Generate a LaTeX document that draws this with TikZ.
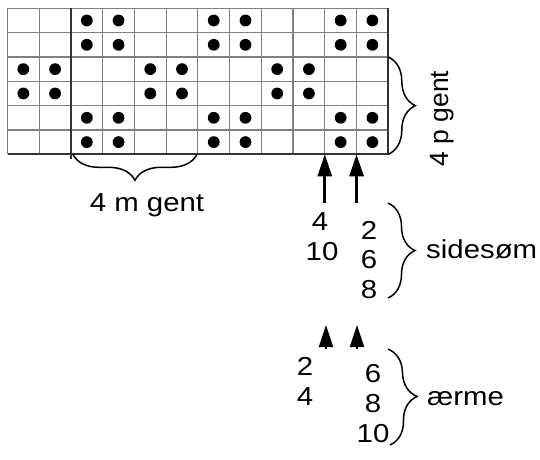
\documentclass[tikz,border=0pt]{standalone}
\usepackage{fontspec}
\setmainfont{Liberation Sans}[FakeStretch=1.13]
\newfontfamily\rotfont{Liberation Sans}
\usetikzlibrary{decorations.pathreplacing,arrows.meta}
\begin{document}
\begin{tikzpicture}[x=1pt,y=-1pt,
  gridline/.style={draw=black!50, line width=1.2pt},
  heavy/.style={draw=black!80, line width=1.7pt},
  brc/.style={draw=black, line width=1.5pt, decorate, decoration={brace, amplitude=#1}},
  lbl/.style={font=\fontsize{26}{30}\selectfont, inner sep=0pt, anchor=base},
  arr/.style={-{Triangle[length=22pt,width=14pt]}, line width=2.8pt},
  arrhead/.style={-{Triangle[length=22pt,width=14pt]}, line width=2pt}
]
\fill[white] (0,0) rectangle (540,459);
\useasboundingbox (0,0) rectangle (540,459);
\def\cw{31.73}
\def\ch{24.33}
\def\gx{7.5}
\def\gy{8.3}
% grid lines
\foreach \c in {0,...,12} {
  \draw[gridline] ({\gx+\c*\cw},\gy) -- ({\gx+\c*\cw},{\gy+6*\ch});
}
\foreach \r in {0,...,6} {
  \draw[gridline] (\gx,{\gy+\r*\ch}) -- ({\gx+12*\cw},{\gy+\r*\ch});
}
% heavy lines
\draw[heavy] (\gx,{\gy+6*\ch}) -- ({\gx+12*\cw},{\gy+6*\ch}) -- ({\gx+12*\cw},\gy);
\draw[heavy] ({\gx+2*\cw},\gy) -- ({\gx+2*\cw},159);
% dots
\foreach \r in {1,2,5,6} {
  \foreach \c in {3,4,7,8,11,12} {
    \fill ({\gx+(\c-0.5)*\cw},{\gy+(\r-0.5)*\ch}) circle (5.9pt);
  }
}
\foreach \r in {3,4} {
  \foreach \c in {1,2,5,6,9,10} {
    \fill ({\gx+(\c-0.5)*\cw},{\gy+(\r-0.5)*\ch}) circle (5.9pt);
  }
}
% braces
\draw[brc=26pt] (197,154.3) -- (72.9,154.3);
\draw[brc=27pt] (388.3,57) -- (388.3,154.3);
\draw[brc=27pt] (388,203) -- (388,298);
\draw[brc=28pt] (388,349) -- (390,445);
% labels
\node[lbl] (mgent) at (147,211) {4 m gent};
\node[lbl, anchor=base, rotate=90, font=\rotfont\fontsize{26.5}{30}\selectfont] (pgent) at (448,118.5) {4 p gent};
\node[lbl] (a4) at (320,230) {4};
\node[lbl] (a10) at (322,260) {10};
\node[lbl] (b2) at (369,239) {2};
\node[lbl] (b6) at (369,268) {6};
\node[lbl] (b8) at (369,298) {8};
\node[lbl, anchor=base west] (side) at (426,258) {sidesøm};
\node[lbl] (c2) at (305,375) {2};
\node[lbl] (c4) at (305,405) {4};
\node[lbl] (d6) at (373,382) {6};
\node[lbl] (d8) at (373,412) {8};
\node[lbl] (d10) at (373,442) {10};
\node[lbl, anchor=base west] (aerme) at (427,405) {ærme};
% arrows
\coordinate (t1) at ({\gx+10*\cw},{\gy+6*\ch});
\coordinate (t2) at ({\gx+11*\cw},{\gy+6*\ch});
\coordinate (s1) at ({\gx+10*\cw},203);
\coordinate (s2) at ({\gx+11*\cw},203);
\draw[arr] (s1) -- (t1);
\draw[arr] (s2) -- (t2);
\coordinate (u1) at (326,349);
\coordinate (v1) at (326,325);
\coordinate (u2) at (357,349);
\coordinate (v2) at (357,325);
\draw[arrhead] (u1) -- (v1);
\draw[arrhead] (u2) -- (v2);
\end{tikzpicture}
\end{document}
